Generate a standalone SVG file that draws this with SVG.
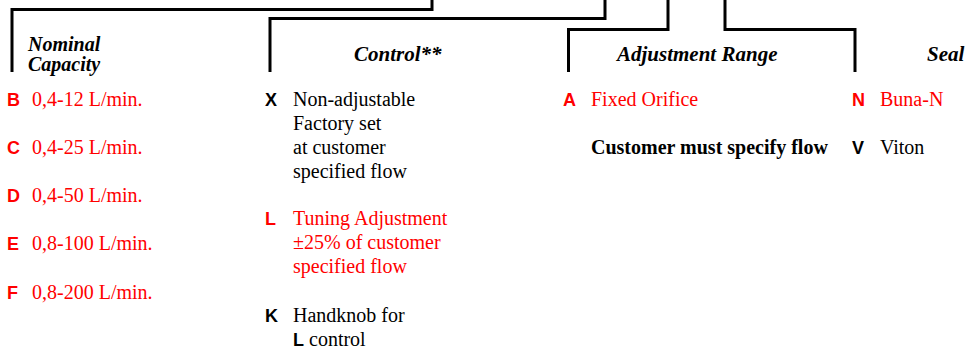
<svg xmlns="http://www.w3.org/2000/svg" width="965" height="352" viewBox="0 0 965 352">
<style>
.ln{fill:none;stroke:#000;stroke-width:3;stroke-linejoin:miter;stroke-linecap:butt}
.h{font-family:"Liberation Serif",serif;font-size:21px;font-weight:bold;font-style:italic;fill:#000}
.h2{font-size:20px}
.t{font-family:"Liberation Serif",serif;font-size:20px;fill:#000}
.r{fill:#ff0000}
.k{font-family:"Liberation Sans",Arial,sans-serif;font-size:18px;font-weight:bold}
.b{font-weight:bold}
</style>
<rect width="965" height="352" fill="#fff"/>
<g id="connectors">
<polyline class="ln" points="12,72 12,9.5 432,9.5 432,0"/>
<polyline class="ln" points="270,72 270,18.5 605,18.5 605,0"/>
<polyline class="ln" points="568.5,72 568.5,29.5 668,29.5 668,0"/>
<polyline class="ln" points="725,0 725,29.5 855,29.5 855,72"/>
</g>
<g id="header-capacity"><text class="h h2" x="28" y="51">Nominal</text><text class="h h2" x="28" y="71">Capacity</text></g>
<g id="header-control"><text class="h" x="354" y="61">Control**</text></g>
<g id="header-range"><text class="h" x="617" y="61">Adjustment Range</text></g>
<g id="header-seal"><text class="h" x="927" y="61">Seal</text></g>
<g id="capacity-options">
<text class="k r" x="7" y="106">B</text><text class="t r" x="32" y="106">0,4-12 L/min.</text>
<text class="k r" x="7" y="154">C</text><text class="t r" x="32" y="154">0,4-25 L/min.</text>
<text class="k r" x="7" y="202">D</text><text class="t r" x="32" y="202">0,4-50 L/min.</text>
<text class="k r" x="7" y="250">E</text><text class="t r" x="32" y="250">0,8-100 L/min.</text>
<text class="k r" x="7" y="299">F</text><text class="t r" x="32" y="299">0,8-200 L/min.</text>
</g>
<g id="control-options">
<text class="k" x="265" y="106">X</text>
<text class="t" x="293" y="106">Non-adjustable</text>
<text class="t" x="293" y="130">Factory set</text>
<text class="t" x="293" y="154">at customer</text>
<text class="t" x="293" y="178">specified flow</text>
<text class="k r" x="265" y="225">L</text>
<text class="t r" x="293" y="225">Tuning Adjustment</text>
<text class="t r" x="293" y="249">±25% of customer</text>
<text class="t r" x="293" y="273">specified flow</text>
<text class="k" x="265" y="322">K</text>
<text class="t" x="293" y="322">Handknob for</text>
<text class="k" x="293" y="346">L</text><text class="t" x="309" y="346">control</text>
</g>
<g id="range-options">
<text class="k r" x="563" y="106">A</text><text class="t r" x="591" y="106">Fixed Orifice</text>
<text class="t b" x="591" y="154">Customer must specify flow</text>
</g>
<g id="seal-options">
<text class="k r" x="852" y="106">N</text><text class="t r" x="880" y="106">Buna-N</text>
<text class="k" x="852" y="154">V</text><text class="t" x="880" y="154">Viton</text>
</g>
</svg>
